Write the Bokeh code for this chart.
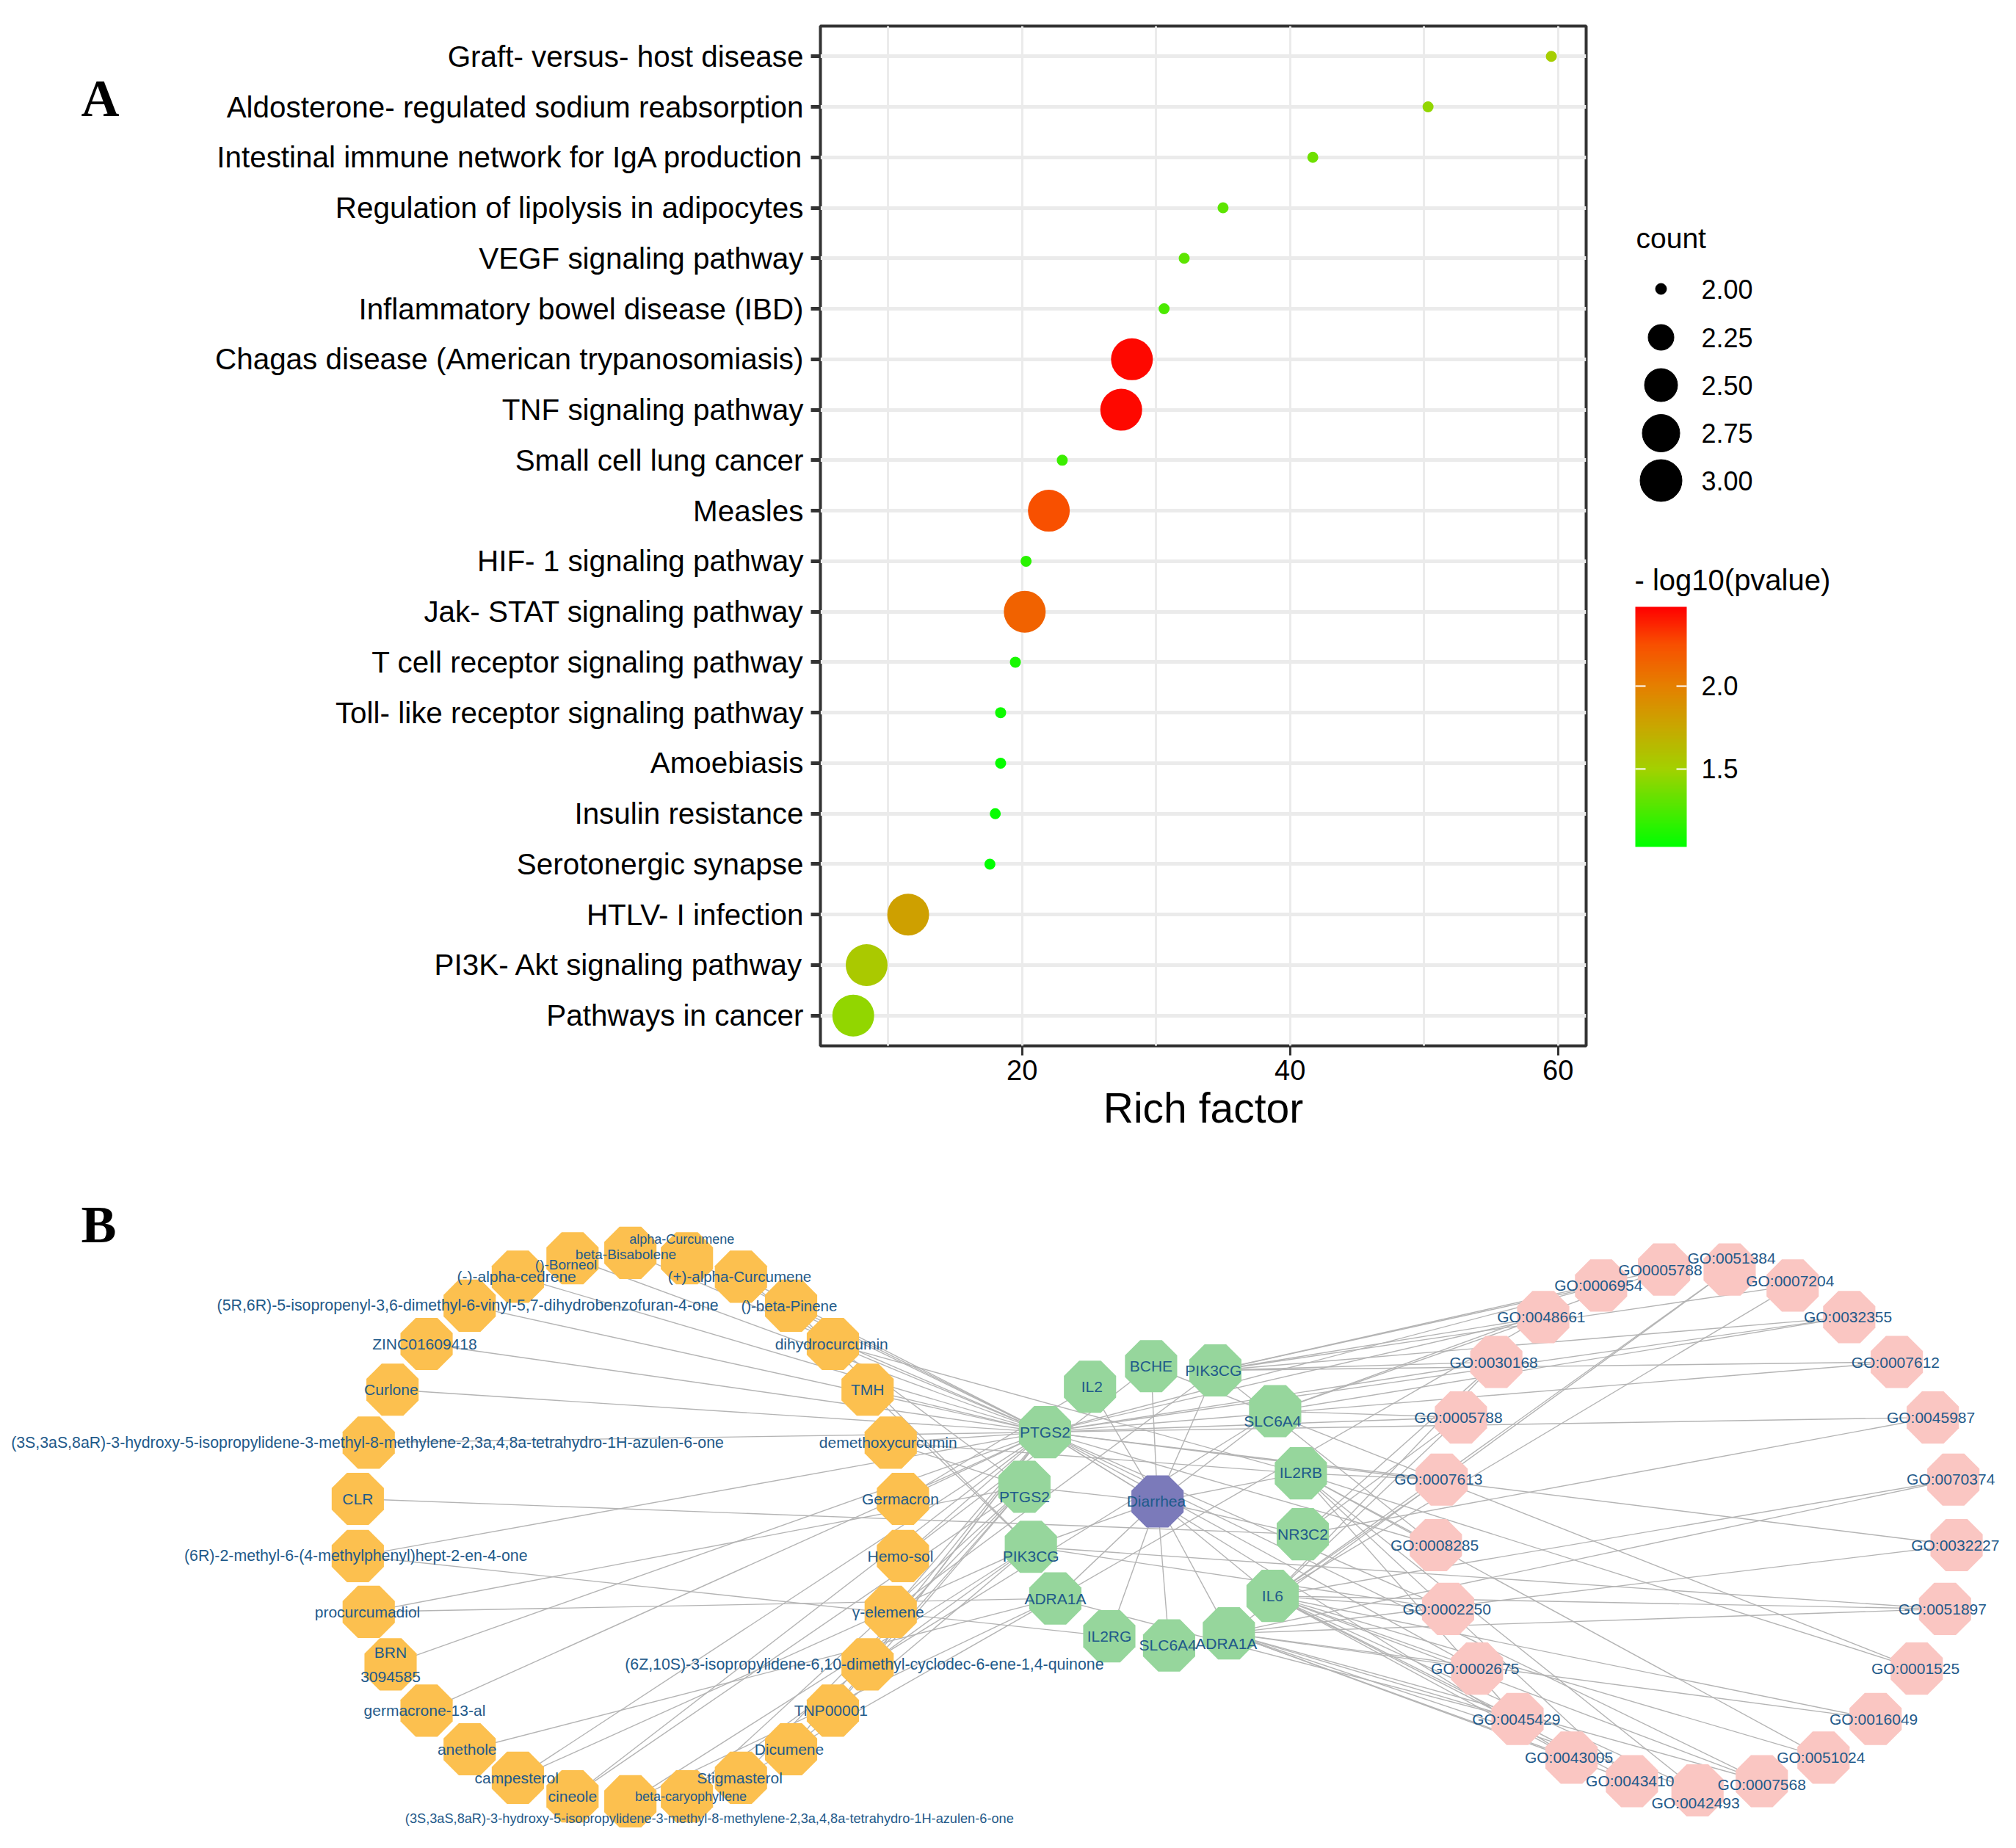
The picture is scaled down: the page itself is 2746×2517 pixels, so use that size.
import numpy as np
from bokeh.core.properties import value
from bokeh.embed import file_html
from bokeh.layouts import column, row
from bokeh.models import (ColorBar, ColumnDataSource, FactorRange, FixedTicker, Label,
                          LinearColorMapper, PrintfTickFormatter, Range1d)
from bokeh.plotting import figure
from bokeh.resources import INLINE
from bokeh.transform import transform

# ---------------- Panel A data ----------------
pathways = ["Graft- versus- host disease", "Aldosterone- regulated sodium reabsorption",
            "Intestinal immune network for IgA production", "Regulation of lipolysis in adipocytes",
            "VEGF signaling pathway", "Inflammatory bowel disease (IBD)",
            "Chagas disease (American trypanosomiasis)", "TNF signaling pathway",
            "Small cell lung cancer", "Measles", "HIF- 1 signaling pathway",
            "Jak- STAT signaling pathway", "T cell receptor signaling pathway",
            "Toll- like receptor signaling pathway", "Amoebiasis", "Insulin resistance",
            "Serotonergic synapse", "HTLV- I infection", "PI3K- Akt signaling pathway",
            "Pathways in cancer"]
rich_factor = [59.5, 50.3, 41.7, 35.0, 32.1, 30.6, 28.2, 27.4, 23.0, 22.0,
               20.3, 20.2, 19.5, 18.4, 18.4, 18.0, 17.6, 11.5, 8.4, 7.4]
count = [2, 2, 2, 2, 2, 2, 3, 3, 2, 3, 2, 3, 2, 2, 2, 2, 2, 3, 3, 3]
log_p = [1.52, 1.45, 1.35, 1.30, 1.30, 1.25, 2.45, 2.45, 1.20, 2.25,
         1.15, 2.15, 1.10, 1.07, 1.05, 1.05, 1.03, 1.80, 1.55, 1.45]
legend_counts = [2.00, 2.25, 2.50, 2.75, 3.00]
legend_sizes = [15, 35, 45, 51, 57]
x_ticks = [20, 40, 60]
x_minor = [10, 30, 50]
color_ticks = [1.5, 2.0]
LOW, HIGH = 1.03, 2.478

anchors_v = [1.03, 1.5, 1.75, 2.0, 2.25, 2.478]
anchors_c = [(0, 255, 0), (163, 209, 0), (200, 168, 0), (229, 128, 0), (248, 80, 0), (255, 0, 0)]
vv = np.linspace(LOW, HIGH, 256)
palette = ["#%02x%02x%02x" % tuple(int(round(np.interp(v, anchors_v, [c[i] for c in anchors_c])))
                                   for i in range(3)) for v in vv]
mapper = LinearColorMapper(palette=palette, low=LOW, high=HIGH)

FONT = "Liberation Sans"
TAG_W = 270

# strip to the left of the plot, holding the panel letter
tag = figure(width=TAG_W, height=1600, output_backend="svg", toolbar_location=None,
             x_range=Range1d(0, TAG_W), y_range=Range1d(1424, 35), x_axis_type=None, y_axis_type=None,
             min_border_left=0, min_border_right=0, min_border_top=35, min_border_bottom=176,
             outline_line_color=None)
tag.grid.visible = False
tag.text([136], [133], text=["A"], text_font=value("Liberation Serif"), text_font_style="bold",
         text_font_size="72px", text_align="center", text_baseline="middle", text_color="black")

src = ColumnDataSource(dict(y=pathways, x=rich_factor, p=log_p,
                            s=np.interp(count, legend_counts, legend_sizes)))
pa = figure(width=2170 - TAG_W, height=1600, output_backend="svg", toolbar_location=None,
            x_range=Range1d(4.95, 62.1), y_range=FactorRange(factors=pathways[::-1], range_padding=0.01),
            min_border_left=1117 - TAG_W, min_border_right=10, min_border_top=35, min_border_bottom=176)
pa.scatter("x", "y", size="s", source=src, line_color=None, fill_color=transform("p", mapper), level="glyph")
pa.outline_line_color = "#333333"
pa.outline_line_width = 4
pa.background_fill_color = "white"
pa.xgrid.grid_line_color = "#ebebeb"
pa.xgrid.grid_line_width = 3
pa.xgrid.minor_grid_line_color = "#ebebeb"
pa.xgrid.minor_grid_line_width = 3
pa.ygrid.grid_line_color = "#ebebeb"
pa.ygrid.grid_line_width = 5
pa.xaxis.ticker = FixedTicker(ticks=x_ticks, minor_ticks=x_minor)
pa.xaxis.minor_tick_line_color = None
pa.xaxis.axis_label = "Rich factor"
pa.xaxis.axis_label_text_font = FONT
pa.xaxis.axis_label_text_font_style = "normal"
pa.xaxis.axis_label_text_font_size = "57px"
pa.xaxis.axis_label_text_color = "black"
pa.xaxis.axis_label_standoff = 3
pa.axis.axis_line_color = None
pa.axis.major_label_text_font = FONT
pa.axis.major_label_text_color = "black"
pa.xaxis.major_label_text_font_size = "38px"
pa.yaxis.major_label_text_font_size = "40.4px"
pa.axis.major_tick_in = 0
pa.axis.major_tick_out = 13
pa.axis.major_tick_line_color = "#333333"
pa.xaxis.major_tick_line_width = 3
pa.yaxis.major_tick_line_width = 5
pa.xaxis.major_label_standoff = 6
pa.yaxis.major_label_standoff = 10

# ---------------- Legends ----------------
leg = figure(width=560, height=1600, output_backend="svg", toolbar_location=None,
             x_range=Range1d(2170, 2730), y_range=Range1d(1424, 35), x_axis_type=None, y_axis_type=None,
             min_border_left=0, min_border_right=0, min_border_top=35, min_border_bottom=176,
             outline_line_color=None)
leg.grid.visible = False
leg_y = [393, 459, 524, 589.5, 654]
leg.scatter([2262] * 5, leg_y, size=legend_sizes, color="black")
leg.text([2317] * 5, leg_y, text=["%.2f" % c for c in legend_counts], text_font=value(FONT),
         text_font_size="36px", text_baseline="middle", text_color="black")
leg.text([2228], [324], text=["count"], text_font=value(FONT),
         text_font_size="39px", text_baseline="middle", text_color="black")
leg.text([2226], [789], text=["- log10(pvalue)"], text_font=value(FONT),
         text_font_size="40px", text_baseline="middle", text_color="black")
cb = ColorBar(color_mapper=mapper, width=70, height=327, location=(57, 271), padding=0, margin=0,
              ticker=FixedTicker(ticks=color_ticks), formatter=PrintfTickFormatter(format="%.1f"),
              major_label_text_font=FONT, major_label_text_font_size="36px", major_label_text_color="black",
              major_tick_line_color="white", major_tick_line_width=2, major_tick_in=14, major_tick_out=0,
              label_standoff=20, bar_line_color=None, border_line_color=None, background_fill_color=None,
              minor_tick_line_color=None)
leg.add_layout(cb)
tick_y = [1153 - (v - LOW) / (HIGH - LOW) * 327 for v in color_ticks]
leg.segment([2227] * 2, tick_y, [2241] * 2, tick_y, line_color="white", line_width=2, level="overlay")

# ---------------- Panel B data (positions read from the left / right crops) ----------------
LONG = 21.3
orange = [
 ("()-Borneol", 890, 163, 880, 179, 19), ("beta-Bisabolene", 980, 150, 973, 153, 19),
 ("alpha-Curcumene", 1068, 163, 1060, 118, 18), ("(+)-alpha-Curcumene", 1152, 207, 1150, 207, 20.5),
 ("()-beta-Pinene", 1230, 276, 1227, 276, 20.5), ("dihydrocurcumin", 1295, 367, 1293, 367, 21),
 ("TMH", 1349, 476, 1349, 476, 21), ("demethoxycurcumin", 1385, 602, 1381, 602, 21),
 ("Germacron", 1404, 736, 1400, 736, 21), ("Hemo-sol", 1404, 872, 1400, 872, 21),
 ("γ-elemene", 1385, 1005, 1381, 1005, 21),
 ("(6Z,10S)-3-isopropylidene-6,10-dimethyl-cyclodec-6-ene-1,4-quinone", 1349, 1130, 1344, 1130, LONG),
 ("TNP00001", 1295, 1240, 1292, 1240, 21), ("Dicumene", 1230, 1332, 1227, 1332, 21),
 ("Stigmasterol", 1152, 1400, 1150, 1400, 21), ("beta-caryophyllene", 1068, 1444, 1074, 1444, 18),
 ("(3S,3aS,8aR)-3-hydroxy-5-isopropylidene-3-methyl-8-methylene-2,3a,4,8a-tetrahydro-1H-azulen-6-one", 980, 1456, 1103, 1497, 18.2),
 ("cineole", 890, 1444, 890, 1444, 21), ("campesterol", 805, 1400, 803, 1400, 21),
 ("anethole", 730, 1332, 726, 1332, 21), ("germacrone-13-al", 663, 1240, 660, 1240, 21),
 ("BRN\n3094585", 607, 1130, 607, 1130, 21), ("procurcumadiol", 573, 1005, 571, 1005, 21),
 ("(6R)-2-methyl-6-(4-methylphenyl)hept-2-en-4-one", 556, 872, 553, 872, LONG), ("CLR", 556, 736, 556, 736, 21),
 ("(3S,3aS,8aR)-3-hydroxy-5-isopropylidene-3-methyl-8-methylene-2,3a,4,8a-tetrahydro-1H-azulen-6-one", 573, 602, 571, 602, LONG),
 ("Curlone", 610, 476, 608, 476, 21), ("ZINC01609418", 663, 367, 660, 367, 21),
 ("(5R,6R)-5-isopropenyl-3,6-dimethyl-6-vinyl-5,7-dihydrobenzofuran-4-one", 730, 276, 727, 276, LONG),
 ("(-)-alpha-cedrene", 805, 207, 803, 207, 21)]
green = [
 ("IL2", 127, 469, 130, 469), ("BCHE", 222, 420, 222, 420), ("PIK3CG", 322, 430, 319, 430),
 ("SLC6A4", 415, 527, 411, 551), ("IL2RB", 455, 675, 455, 673), ("NR3C2", 458, 820, 458, 820),
 ("IL6", 411, 967, 411, 967), ("ADRA1A", 343, 1056, 339, 1080), ("SLC6A4", 250, 1085, 248, 1083),
 ("IL2RG", 157, 1063, 157, 1063), ("ADRA1A", 73, 973, 73, 973), ("PIK3CG", 35, 850, 35, 873),
 ("PTGS2", 25, 707, 25, 731), ("PTGS2", 57, 577, 57, 577)]
pink = [
 ("GO:0006954", 922, 228, 918, 228), ("GO0005788", 1020, 190, 1014, 190), ("GO:0051384", 1122, 190, 1125, 163),
 ("GO:0007204", 1220, 228, 1216, 216), ("GO:0032355", 1308, 303, 1306, 303), ("GO:0007612", 1382, 410, 1380, 410),
 ("GO:0045987", 1438, 542, 1435, 542), ("GO:0070374", 1470, 690, 1466, 689), ("GO:0032227", 1475, 846, 1473, 846),
 ("GO:0051897", 1457, 998, 1453, 998), ("GO:0001525", 1413, 1140, 1411, 1140), ("GO:0016049", 1349, 1260, 1346, 1260),
 ("GO:0051024", 1268, 1352, 1264, 1352), ("GO:0007568", 1172, 1408, 1172, 1416), ("GO:0042493", 1072, 1430, 1069, 1459),
 ("GO:0043410", 970, 1408, 967, 1408), ("GO:0043005", 876, 1352, 872, 1352), ("GO:0045429", 792, 1260, 790, 1260),
 ("GO:0002675", 729, 1140, 726, 1140), ("GO:0002250", 684, 998, 682, 998), ("GO:0008285", 665, 846, 663, 846),
 ("GO:0007613", 674, 690, 669, 689), ("GO:0005788", 704, 542, 700, 542), ("GO:0030168", 759, 410, 755, 410),
 ("GO:0048661", 832, 303, 829, 303)]
hub = ("Diarrhea", 232, 742, 230, 741)

# edges: indices into orange / green / pink
g = {"IL2": 0, "BC": 1, "PI1": 2, "SL1": 3, "RB": 4, "NR": 5, "IL6": 6, "AD1": 7, "SL2": 8, "RG": 9,
     "AD2": 10, "PI2": 11, "PT2": 12, "PT1": 13}
orange_edges = {
 0: ["PT1"], 1: ["PT1"], 2: ["PT1"], 3: ["PT2", "PT1"], 4: ["PI2", "PT1"], 5: ["PT1", "RB"], 6: ["PT1", "PI2"],
 7: ["PT1", "PT2", "RB"], 8: ["PT1", "IL2"], 9: ["PT1", "BC"], 10: ["PT1", "PI1"], 11: ["PT1", "PT2", "SL1"],
 12: ["PT1", "PT2"], 13: ["PT1", "PI2"], 14: ["PT2", "AD2"], 15: ["PT2", "PI2"], 16: ["PI2", "AD2"],
 17: ["PT1", "PT2"], 18: ["PT1", "PI2"], 19: ["AD2"], 20: ["PT1"], 21: ["PT1"], 22: ["PT2", "AD2"],
 23: ["PT1", "RG"], 24: ["NR"], 25: ["PT1"], 26: ["PT1"], 27: ["PT1"], 28: ["PT1"], 29: ["PT1"]}
pink_edges = {
 0: ["PI1", "PT1"], 1: ["PI1", "SL1"], 2: ["IL6", "AD1"], 3: ["PI1", "IL6"], 4: ["PI1", "PT1", "SL1"],
 5: ["PI1", "PT1"], 6: ["PT1", "NR"], 7: ["AD1", "IL6"], 8: ["AD1", "PT1"], 9: ["PI2", "IL6", "AD1"],
 10: ["BC", "RB"], 11: ["IL6", "AD1"], 12: ["RB", "IL6"], 13: ["AD1", "IL6", "PT1"], 14: ["RB", "IL6", "AD1"],
 15: ["RB", "IL6", "AD1"], 16: ["IL6", "AD1", "PT1"], 17: ["RB", "IL6", "AD1", "AD2"], 18: ["IL6", "AD1", "PT1"],
 19: ["IL6", "PT1", "PI2"], 20: ["PT1", "PI1", "RB"], 21: ["PT1", "RB", "IL6"], 22: ["PT1", "IL6", "SL1", "NR"],
 23: ["PI1", "PT1", "IL6", "NR"], 24: ["PI1", "PT1", "SL1", "AD2"]}
hub_edges = list(g.values())

FX, FY = 1568 / 1373, 1568 / 897
def left(x, y):
    return x / FX, 1620 + y / FY
def right(x, y):
    return 1373 + x / FX, 1620 + y / FY

o_xy = [left(n[1], n[2]) for n in orange]
g_xy = [right(n[1], n[2]) for n in green]
k_xy = [right(n[1], n[2]) for n in pink]
h_xy = right(hub[1], hub[2])

x0, y0, x1, y1 = [], [], [], []
def edge(a, b):
    x0.append(a[0]); y0.append(a[1]); x1.append(b[0]); y1.append(b[1])
for i, targets in orange_edges.items():
    for t in targets:
        edge(o_xy[i], g_xy[g[t]])
for i, targets in pink_edges.items():
    for t in targets:
        edge(k_xy[i], g_xy[g[t]])
for i in hub_edges:
    edge(h_xy, g_xy[i])

pb = figure(width=2730, height=909, output_backend="svg", toolbar_location=None,
            x_range=Range1d(0, 2730), y_range=Range1d(2509, 1600), x_axis_type=None, y_axis_type=None,
            min_border=0, outline_line_color=None)
pb.grid.visible = False
pb.segment(x0, y0, x1, y1, line_color="#b4b4b4", line_width=1.4)

R = 38.5
ang = np.deg2rad(22.5 + 45 * np.arange(8))
def octagons(xy, color):
    xs = [(p[0] + R * np.cos(ang)).tolist() for p in xy]
    ys = [(p[1] + R * np.sin(ang)).tolist() for p in xy]
    pb.patches(xs, ys, fill_color=color, line_color=None)
octagons(o_xy, "#fcc04f")
octagons(g_xy, "#96d69c")
octagons(k_xy, "#fac6c2")
octagons([h_xy], "#7b7aba")

TXT = "#1f5a8a"
def labels(nodes, conv, default=21):
    for n in nodes:
        lx, ly = conv(n[3], n[4])
        size = n[5] if len(n) > 5 else default
        pb.text([lx], [ly], text=[n[0]], text_font=value(FONT), text_font_size="%gpx" % size,
                text_align="center", text_baseline="middle", text_color=TXT, text_line_height=1.4)
labels(orange, left)
labels(green, right)
labels(pink, right)
labels([hub], right)
pb.add_layout(Label(x=134, y=67, x_units="canvas", y_units="canvas", text="B", text_font="Liberation Serif",
                    text_font_style="bold", text_font_size="72px", text_align="center", text_baseline="middle",
                    text_color="black"))

layout = column(row(tag, pa, leg), pb)
open("out.html", "w").write(file_html(layout, INLINE))
